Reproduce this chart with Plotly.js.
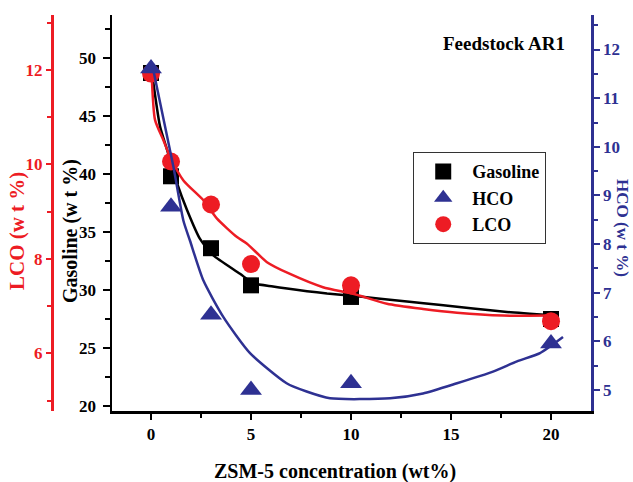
<!DOCTYPE html>
<html>
<head>
<meta charset="utf-8">
<script src="https://cdn.plot.ly/plotly-3.0.1.min.js"></script>
<style>html,body{margin:0;padding:0;background:#fff}#chart{width:633px;height:482px}</style>
</head>
<body>
<div id="chart"></div>
<script>
// Measured data (ZSM-5 concentration, wt%)
const zsm = [0, 1, 3, 5, 10, 20];
const gasoline = [48.7, 39.8, 33.6, 30.4, 29.4, 27.5];
const hco = [11.61, 8.77, 6.55, 5.0, 5.14, 5.96];
const lco = [11.92, 10.06, 9.15, 7.89, 7.44, 6.68];

// Fitted curves
const gasFitX = [0.05, 0.45, 0.8, 1.3, 1.8, 2.45, 3.1, 4.45, 5.1, 6.1, 7.8, 8.8, 10.1, 12.8, 14.5, 16.1, 17.8, 20.1];
const gasFitY = [48.7, 44.1, 42.1, 39.2, 36.9, 34.4, 33.0, 31.4, 30.6, 30.3, 29.9, 29.7, 29.5, 29.0, 28.7, 28.4, 28.1, 27.8];
const lcoFitX = [0.03, 0.2, 0.62, 0.95, 1.62, 2.62, 3.3, 4.3, 4.8, 5.8, 6.95, 8.6, 10.1, 11.8, 13.6, 15.3, 17.6, 20.0];
const lcoFitY = [11.93, 10.94, 10.51, 10.16, 9.66, 9.24, 8.85, 8.46, 8.32, 7.93, 7.68, 7.40, 7.26, 7.05, 6.94, 6.86, 6.80, 6.80];
const hcoFitX = [0.12, 1.12, 1.62, 1.95, 2.62, 3.62, 4.95, 6.78, 7.78, 8.95, 11.95, 13.6, 15.3, 17.1, 18.3, 19.45, 20.6];
const hcoFitY = [11.57, 9.59, 8.48, 8.07, 7.25, 6.50, 5.76, 5.14, 4.97, 4.83, 4.83, 4.93, 5.14, 5.38, 5.59, 5.76, 6.09];

const RED = '#ED1C24', BLUE = '#2E3192', BLACK = '#000000';
const FF = 'Liberation Serif, Times New Roman, serif';
const bold = (size, color) => ({family: FF, size: size, color: color, weight: 'bold'});

const traces = [
  {x: zsm, y: gasoline, name: 'Gasoline', type: 'scatter', mode: 'markers',
   marker: {symbol: 'square', size: 16, color: BLACK}, xaxis: 'x', yaxis: 'y'},
  {x: zsm, y: hco, name: 'HCO', type: 'scatter', mode: 'markers',
   marker: {symbol: 'triangle-up', size: 19, color: BLUE}, xaxis: 'x', yaxis: 'y3'},
  {x: zsm, y: lco, name: 'LCO', type: 'scatter', mode: 'markers',
   marker: {symbol: 'circle', size: 18, color: RED}, xaxis: 'x', yaxis: 'y2'},
  {x: lcoFitX, y: lcoFitY, type: 'scatter', mode: 'lines', showlegend: false,
   line: {color: RED, width: 2.5, shape: 'spline', smoothing: 0.6}, xaxis: 'x', yaxis: 'y2', hoverinfo: 'skip'},
  {x: gasFitX, y: gasFitY, type: 'scatter', mode: 'lines', showlegend: false,
   line: {color: BLACK, width: 2.5, shape: 'spline', smoothing: 0.6}, xaxis: 'x', yaxis: 'y', hoverinfo: 'skip'},
  {x: hcoFitX, y: hcoFitY, type: 'scatter', mode: 'lines', showlegend: false,
   line: {color: BLUE, width: 2.5, shape: 'spline', smoothing: 0.6}, xaxis: 'x', yaxis: 'y3', hoverinfo: 'skip'}
];

const xRange = [-1.95, 22];
const layout = {
  width: 633, height: 482,
  margin: {l: 40, r: 42, t: 15, b: 71},
  paper_bgcolor: '#fff', plot_bgcolor: '#fff',
  showlegend: true,
  legend: {x: 0.677, y: 0.654, xanchor: 'left', yanchor: 'top',
    bordercolor: '#333', borderwidth: 1.2, bgcolor: '#fff',
    font: bold(18, BLACK), tracegroupgap: 0, itemwidth: 48},
  xaxis: {domain: [0.1307, 1], range: xRange, anchor: 'y',
    showgrid: false, zeroline: false, showline: true, linecolor: BLACK, linewidth: 2.5,
    ticks: 'outside', ticklen: 6, tickwidth: 2, tickcolor: BLACK,
    tickvals: [0, 5, 10, 15, 20], ticktext: ['0', '5', '10', '15', '20'],
    minor: {tickvals: [2.5, 7.5, 12.5, 17.5], ticks: 'outside', ticklen: 4, tickwidth: 2, tickcolor: BLACK},
    tickfont: bold(17, BLACK)},
  xaxis2: {domain: [0.1307, 1], range: xRange, overlaying: 'x', anchor: 'y', side: 'top',
    showgrid: false, zeroline: false, showline: true, linecolor: BLACK, linewidth: 2.5,
    ticks: 'inside', ticklen: 6, tickwidth: 2, tickcolor: BLACK, showticklabels: false,
    tickvals: [0, 5, 10, 15, 20]},
  yaxis: {range: [19.57, 53.7], anchor: 'x', side: 'left',
    showgrid: false, zeroline: false, showline: true, linecolor: BLACK, linewidth: 2.5,
    ticks: 'outside', ticklen: 7, tickwidth: 2, tickcolor: BLACK,
    tickvals: [20, 25, 30, 35, 40, 45, 50], ticklabelstandoff: 3,
    minor: {tickvals: [22.5, 27.5, 32.5, 37.5, 42.5, 47.5, 52.5], ticks: 'outside', ticklen: 5, tickwidth: 2, tickcolor: BLACK},
    tickfont: bold(17, BLACK)},
  yaxis2: {range: [4.78, 13.16], overlaying: 'y', anchor: 'free', position: 0.0218, side: 'left',
    showgrid: false, zeroline: false, showline: true, linecolor: RED, linewidth: 2.5,
    ticks: 'outside', ticklen: 5, tickwidth: 2, tickcolor: RED,
    tickvals: [6, 8, 10, 12],
    minor: {tickvals: [5, 7, 9, 11, 13], ticks: 'outside', ticklen: 4, tickwidth: 2, tickcolor: RED},
    tickfont: bold(17, RED)},
  yaxis3: {range: [4.57, 12.71], overlaying: 'y', anchor: 'x', side: 'right',
    showgrid: false, zeroline: false, showline: true, linecolor: BLUE, linewidth: 2.5,
    ticks: 'outside', ticklen: 6, tickwidth: 2, tickcolor: BLUE,
    tickvals: [5, 6, 7, 8, 9, 10, 11, 12],
    minor: {tickvals: [5.5, 6.5, 7.5, 8.5, 9.5, 10.5, 11.5, 12.5], ticks: 'outside', ticklen: 4, tickwidth: 2, tickcolor: BLUE},
    tickfont: bold(17, BLUE)},
  annotations: [
    {text: 'Feedstock AR1', xref: 'paper', yref: 'paper', x: 0.842, y: 0.927,
     xanchor: 'center', yanchor: 'middle', showarrow: false, font: bold(19, BLACK)},
    {text: 'ZSM-5 concentration (wt%)', xref: 'paper', yref: 'paper', x: 0.536, y: -0.154,
     xanchor: 'center', yanchor: 'middle', showarrow: false, font: bold(20, BLACK)},
    {text: 'Gasoline (w t %)', xref: 'paper', yref: 'paper', x: 0.0544, y: 0.4545,
     xanchor: 'center', yanchor: 'middle', showarrow: false, textangle: -90, font: bold(20, BLACK)},
    {text: 'LCO (w t %)', xref: 'paper', yref: 'paper', x: -0.0417, y: 0.4545,
     xanchor: 'center', yanchor: 'middle', showarrow: false, textangle: -90, font: bold(21, RED)},
    {text: 'HCO (w t %)', xref: 'paper', yref: 'paper', x: 1.058, y: 0.462,
     xanchor: 'center', yanchor: 'middle', showarrow: false, textangle: 90, font: bold(17, BLUE)}
  ]
};

Plotly.newPlot('chart', traces, layout, {displayModeBar: false, staticPlot: true});
</script>
</body>
</html>
